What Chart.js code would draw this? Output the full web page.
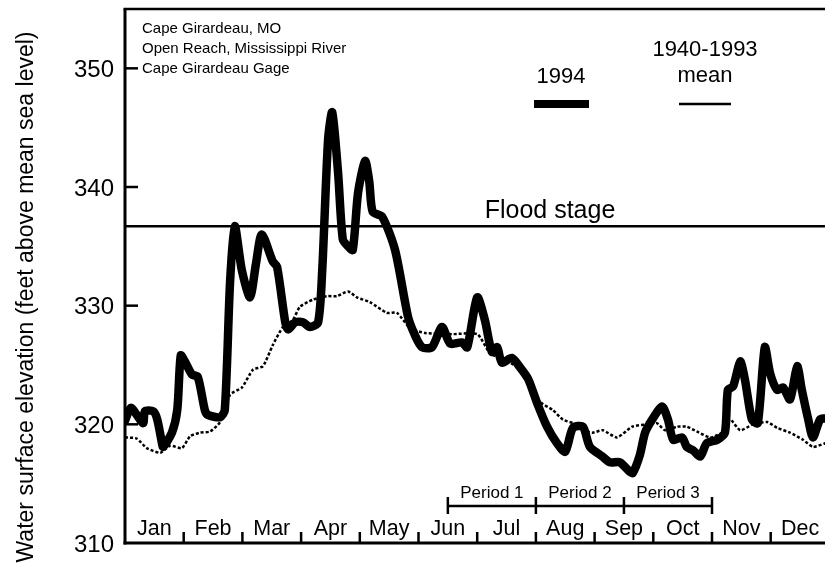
<!DOCTYPE html>
<html>
<head>
<meta charset="utf-8">
<title>Cape Girardeau stage, 1994</title>
<script src="https://cdn.jsdelivr.net/npm/chart.js@4.4.1/dist/chart.umd.min.js"></script>
<style>
    html, body { margin: 0; padding: 0; background: #fff; }
    #wrap { width: 825px; height: 565px; }
</style>
</head>
<body>
<div id="wrap"><canvas id="stage" width="825" height="565"></canvas></div>
<script>
// Month positions (0 = Jan 1, 12 = Dec 31) and water surface elevation, ft above msl
const obsMonth = [
    0.00, 0.10, 0.20, 0.31, 0.34, 0.48, 0.55, 0.63, 0.65, 0.80, 0.89, 0.95,
    1.02, 1.14, 1.24, 1.36, 1.41, 1.62, 1.70, 1.79, 1.87, 1.99, 2.13, 2.23,
    2.33, 2.52, 2.59, 2.73, 2.78, 2.90, 3.03, 3.15, 3.29, 3.36, 3.46, 3.53,
    3.63, 3.71, 3.80, 3.88, 3.97, 4.09, 4.16, 4.22, 4.38, 4.60, 4.82, 4.94,
    5.06, 5.23, 5.40, 5.54, 5.74, 5.83, 6.00, 6.13, 6.25, 6.34, 6.42, 6.59,
    6.73, 6.87, 7.02, 7.19, 7.36, 7.50, 7.63, 7.80, 7.92, 8.13, 8.26, 8.43,
    8.60, 8.65, 8.77, 8.86, 8.98, 9.15, 9.25, 9.34, 9.49, 9.57, 9.68, 9.80,
    9.91, 10.09, 10.22, 10.27, 10.36, 10.48, 10.56, 10.68, 10.78, 10.90, 10.99, 11.11,
    11.21, 11.33, 11.45, 11.53, 11.64, 11.72, 11.84, 11.93
];
const obsStage = [
    320.3, 321.4, 320.8, 320.1, 321.1, 321.1, 320.4, 318.4, 318.1, 319.3, 321.2, 325.8,
    325.3, 324.2, 324.0, 321.2, 320.8, 320.6, 321.2, 332.0, 336.7, 333.0, 330.7, 333.5,
    336.0, 333.7, 333.3, 328.6, 328.0, 328.6, 328.6, 328.2, 328.6, 333.0, 344.0, 346.3,
    341.2, 335.6, 335.0, 334.7, 339.5, 342.2, 340.5, 337.9, 337.5, 334.7, 329.1, 327.5,
    326.5, 326.5, 328.2, 326.8, 326.9, 326.5, 330.7, 328.8, 326.1, 326.5, 325.2, 325.6,
    324.8, 323.8, 321.8, 319.8, 318.4, 317.7, 319.7, 319.8, 318.1, 317.3, 316.8, 316.8,
    316.0, 315.9, 317.4, 319.3, 320.4, 321.5, 320.4, 318.7, 318.9, 318.1, 317.8, 317.3,
    318.4, 318.7, 319.3, 322.9, 323.2, 325.3, 323.8, 320.4, 320.1, 326.5, 324.3, 322.9,
    323.1, 322.1, 324.9, 322.9, 320.4, 318.9, 320.4, 320.5
];

const meanMonth = [
    0.00, 0.20, 0.37, 0.60, 0.77, 0.97, 1.11, 1.28, 1.45, 1.62, 1.79, 1.99,
    2.18, 2.35, 2.52, 2.69, 2.86, 2.98, 3.20, 3.44, 3.61, 3.80, 3.95, 4.17,
    4.46, 4.63, 4.86, 5.11, 5.57, 6.00, 6.22, 6.56, 6.73, 7.07, 7.29, 7.46,
    7.63, 7.80, 7.97, 8.14, 8.38, 8.64, 8.89, 9.06, 9.20, 9.40, 9.57, 9.74,
    9.97, 10.17, 10.31, 10.48, 10.70, 10.94, 11.11, 11.33, 11.55, 11.72, 11.93
];
const meanStage = [
    318.9, 318.8, 318.0, 317.6, 318.2, 318.0, 319.0, 319.3, 319.4, 320.2, 322.5, 323.1,
    324.6, 324.9, 326.7, 328.2, 328.8, 329.9, 330.5, 330.8, 330.8, 331.2, 330.7, 330.3,
    329.4, 329.4, 328.1, 327.7, 327.6, 327.6, 326.0, 325.2, 324.6, 321.9, 321.2, 320.4,
    320.1, 319.5, 319.3, 319.5, 318.9, 319.8, 320.0, 320.1, 319.5, 319.8, 319.8, 319.4,
    318.9, 319.3, 320.4, 319.5, 320.0, 320.2, 319.7, 319.3, 318.7, 318.1, 318.4
];

const monthNames = ['Jan', 'Feb', 'Mar', 'Apr', 'May', 'Jun', 'Jul', 'Aug', 'Sep', 'Oct', 'Nov', 'Dec'];
const yTicks = [310, 320, 330, 340, 350];
const floodStage = 336.7;
const periodBounds = [5.5, 7, 8.5, 10];
const periodNames = ['Period 1', 'Period 2', 'Period 3'];
const siteLines = ['Cape Girardeau, MO', 'Open Reach, Mississippi River', 'Cape Girardeau Gage'];

const FONT = '"Liberation Sans", Arial, Helvetica, sans-serif';

function toPoints(xs, ys) {
    return xs.map((x, i) => ({ x: x, y: ys[i] }));
}

function line(ctx, x1, y1, x2, y2) {
    ctx.beginPath();
    ctx.moveTo(x1, y1);
    ctx.lineTo(x2, y2);
    ctx.stroke();
}

// Axes, flood stage, period brackets, legend and notes
const decorations = {
    id: 'decorations',
    beforeDatasetsDraw(chart) {
        const { ctx, chartArea: a, scales: { y } } = chart;
        const fy = y.getPixelForValue(floodStage);
        ctx.save();
        ctx.strokeStyle = '#000';
        ctx.lineWidth = 2.5;
        line(ctx, a.left, fy, a.right, fy);
        ctx.fillStyle = '#000';
        ctx.font = '25px ' + FONT;
        ctx.textAlign = 'center';
        ctx.textBaseline = 'alphabetic';
        ctx.fillText('Flood stage', 550, fy - 8);
        ctx.restore();
    },
    afterDatasetsDraw(chart) {
        const { ctx, chartArea: a, scales: { x, y } } = chart;
        ctx.save();
        ctx.strokeStyle = '#000';
        ctx.fillStyle = '#000';
        ctx.lineCap = 'butt';

        // frame: left, top, bottom
        ctx.lineWidth = 3;
        line(ctx, a.left, a.top, a.left, a.bottom + 1.5);
        line(ctx, a.left - 1.5, a.bottom, a.right, a.bottom);
        ctx.lineWidth = 2.5;
        line(ctx, a.left - 1.5, a.top, a.right, a.top);

        // y ticks (inside) and labels
        ctx.font = '24px ' + FONT;
        ctx.textAlign = 'right';
        ctx.textBaseline = 'middle';
        yTicks.forEach(v => {
            const py = y.getPixelForValue(v);
            if (v > y.min) line(ctx, a.left, py, a.left + 13, py);
            ctx.fillText(String(v), a.left - 11, py + 2);
        });

        // month boundaries and names
        ctx.lineWidth = 2.5;
        for (let k = 1; k <= 12; k++) {
            const px = x.getPixelForValue(k);
            if (px <= a.right) line(ctx, px, a.bottom, px, a.bottom - 11);
        }
        ctx.font = '21.5px ' + FONT;
        ctx.textAlign = 'center';
        monthNames.forEach((m, k) => {
            ctx.fillText(m, x.getPixelForValue(k + 0.5), a.bottom - 14);
        });

        // low-water period brackets
        const by = 506;
        const bx = periodBounds.map(v => x.getPixelForValue(v));
        line(ctx, bx[0], by, bx[bx.length - 1], by);
        bx.forEach(px => line(ctx, px, by - 9, px, by + 8));
        ctx.font = '17px ' + FONT;
        periodNames.forEach((p, i) => {
            ctx.fillText(p, (bx[i] + bx[i + 1]) / 2, by - 13);
        });

        // legend
        ctx.font = '22px ' + FONT;
        ctx.fillText('1994', 561, 77);
        ctx.fillText('1940-1993', 705, 50);
        ctx.fillText('mean', 705, 76);
        ctx.fillRect(534, 100, 55, 8);
        ctx.lineWidth = 2.5;
        line(ctx, 679, 104, 731, 104);

        // site notes
        ctx.font = '15px ' + FONT;
        ctx.textAlign = 'left';
        siteLines.forEach((s, i) => ctx.fillText(s, 142, 29 + i * 19.8));

        // axis title
        ctx.translate(27, 297);
        ctx.rotate(-Math.PI / 2);
        ctx.textAlign = 'center';
        ctx.font = '23px ' + FONT;
        ctx.fillText('Water surface elevation (feet above mean sea level)', 0, 0);
        ctx.restore();
    }
};

new Chart(document.getElementById('stage'), {
    type: 'line',
    data: {
        datasets: [
            {
                label: '1940-1993 mean',
                data: toPoints(meanMonth, meanStage),
                borderColor: '#000',
                borderWidth: 2.5,
                borderDash: [3, 2],
                pointRadius: 0,
                tension: 0.2,
                fill: false
            },
            {
                label: '1994',
                data: toPoints(obsMonth, obsStage),
                borderColor: '#000',
                borderWidth: 8.5,
                borderJoinStyle: 'round',
                borderCapStyle: 'round',
                pointRadius: 0,
                tension: 0.25,
                fill: false
            }
        ]
    },
    options: {
        responsive: false,
        animation: false,
        events: [],
        layout: { padding: { left: 125, top: 9, right: 0, bottom: 22 } },
        plugins: {
            legend: { display: false },
            tooltip: { enabled: false }
        },
        scales: {
            x: { type: 'linear', min: 0, max: 11.925, display: false },
            y: { type: 'linear', min: 310, max: 355, display: false }
        }
    },
    plugins: [decorations]
});
</script>
</body>
</html>
